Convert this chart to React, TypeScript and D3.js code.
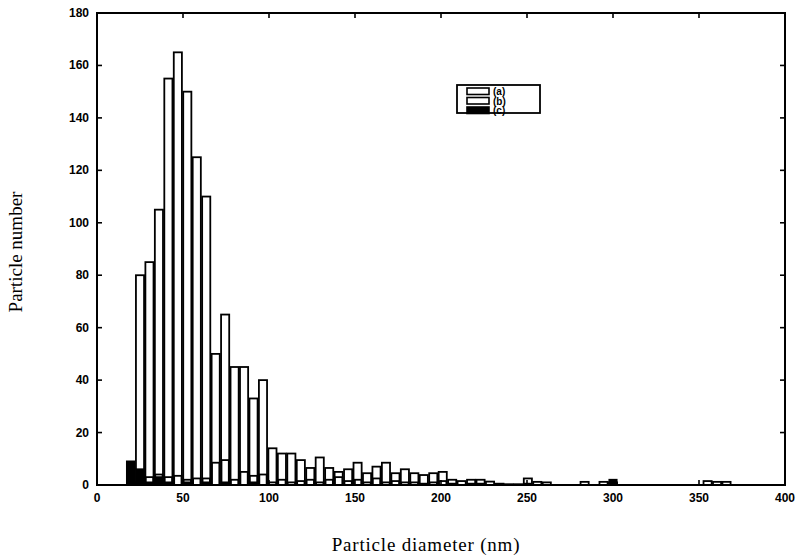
import * as d3 from "d3";

// bin centres (nm) of the histogram, bin width ~5.5 nm
const binCenters = [
  19.5, 25, 30.5, 36, 41.5, 47, 52.5, 58, 63.5, 69, 74.5, 80, 85.5, 91, 96.5,
  102, 107.5, 113, 118.5, 124, 129.5, 135, 140.5, 146, 151.5, 157, 162.5, 168,
  173.5, 179, 184.5, 190, 195.5, 201, 206.5, 212, 217.5, 223, 228.5, 234,
  239.5, 245, 250.5, 256, 261.5, 283.5, 294.5, 300, 355, 360.5, 366,
];
const countsA = [
  0, 80, 85, 105, 155, 165, 150, 125, 110, 50, 65, 45, 45, 33, 40,
  14, 12, 12, 9.5, 6.5, 10.5, 6.5, 5, 6, 8.5, 4.5, 7, 8.5,
  4.5, 6, 4.5, 3.8, 4.5, 5, 2, 1.5, 2, 2, 1.3, 0.5,
  0.3, 0.3, 2.5, 1.2, 1, 1.2, 1.2, 1, 1.5, 1.2, 1.2,
];
const countsB = [
  0, 1, 3, 4, 3, 3.5, 2, 2.5, 2.5, 8.5, 9.5, 2, 5, 3.5, 4,
  1, 2, 1, 1.5, 2, 1, 2, 3, 1.5, 2, 1, 2.5, 1,
  1.5, 1, 1, 0.5, 1, 1.5, 0.5, 0, 0.5, 0.5, 0, 0,
  0, 0, 0, 0, 0, 0, 0, 0, 0, 0, 0,
];
const countsC = [
  9, 6, 1, 3, 1, 0, 1, 0, 1, 0, 1, 0, 0, 1, 0,
  0, 0, 0, 0, 0, 0, 0, 0, 0, 0, 0, 0, 0,
  0, 0, 0, 0, 0, 0, 0, 0, 0, 0, 0, 0,
  0, 0, 0.5, 0, 0, 0, 0, 2, 0, 0, 0,
];
const BIN_WIDTH = 5.5;

const xTicks = [0, 50, 100, 150, 200, 250, 300, 350, 400];
const yTicks = [0, 20, 40, 60, 80, 100, 120, 140, 160, 180];
const legendLabels = ["(a)", "(b)", "(c)"];
const seriesFill = ["#ffffff", "#ffffff", "#000000"];

const W = 802;
const H = 560;
const PLOT = { left: 97, right: 785, top: 13, bottom: 485 };
const TICK = 5;

export default function App() {
  const xScale = d3.scaleLinear().domain([0, 400]).range([PLOT.left, PLOT.right]);
  const yScale = d3.scaleLinear().domain([0, 180]).range([PLOT.bottom, PLOT.top]);

  const barW = xScale(BIN_WIDTH * 0.86) - xScale(0);
  const series = [countsA, countsB, countsC];

  const bars = series.map((counts, s) => (
    <g key={s}>
      {binCenters.map((c, i) => {
        const v = counts[i];
        if (!v) return null;
        const w = s === 0 ? barW : barW * 0.9;
        return (
          <rect
            key={i}
            x={xScale(c) - w / 2}
            y={yScale(v)}
            width={w}
            height={yScale(0) - yScale(v)}
            fill={seriesFill[s]}
            stroke="#000"
            strokeWidth={1.8}
          />
        );
      })}
    </g>
  ));

  const tickFont = {
    fontFamily: "Liberation Sans, Arial, sans-serif",
    fontSize: 12,
    fontWeight: 700,
  };

  const legendX = 457;
  const legendY = 85;
  const rowH = 9.5;

  return (
    <svg
      width={W}
      height={H}
      style={{ position: "absolute", left: 0, top: 0, background: "#fff" }}
    >
      <rect x={0} y={0} width={W} height={H} fill="#fff" />
      {bars}

      {/* ticks, inward on all four sides */}
      {xTicks.map((t) => (
        <g key={`x${t}`}>
          <line x1={xScale(t)} x2={xScale(t)} y1={PLOT.bottom} y2={PLOT.bottom - TICK} stroke="#000" strokeWidth={1.6} />
          <line x1={xScale(t)} x2={xScale(t)} y1={PLOT.top} y2={PLOT.top + TICK} stroke="#000" strokeWidth={1.6} />
          <text x={xScale(t)} y={PLOT.bottom + 17} textAnchor="middle" {...tickFont}>
            {t}
          </text>
        </g>
      ))}
      {yTicks.map((t) => (
        <g key={`y${t}`}>
          <line x1={PLOT.left} x2={PLOT.left + TICK} y1={yScale(t)} y2={yScale(t)} stroke="#000" strokeWidth={1.6} />
          <line x1={PLOT.right} x2={PLOT.right - TICK} y1={yScale(t)} y2={yScale(t)} stroke="#000" strokeWidth={1.6} />
          <text x={PLOT.left - 8} y={yScale(t) + 4} textAnchor="end" {...tickFont}>
            {t}
          </text>
        </g>
      ))}

      <rect
        x={PLOT.left}
        y={PLOT.top}
        width={PLOT.right - PLOT.left}
        height={PLOT.bottom - PLOT.top}
        fill="none"
        stroke="#000"
        strokeWidth={2}
      />

      {/* legend */}
      <g>
        <rect x={legendX} y={legendY} width={83} height={28} fill="#fff" stroke="#000" strokeWidth={1.8} />
        {legendLabels.map((lab, i) => (
          <g key={lab}>
            <rect
              x={legendX + 10}
              y={legendY + 3 + i * rowH}
              width={22}
              height={6.5}
              fill={seriesFill[i]}
              stroke="#000"
              strokeWidth={1.6}
            />
            <text
              x={legendX + 36}
              y={legendY + 10 + i * rowH}
              fontFamily="Liberation Sans, Arial, sans-serif"
              fontSize={10}
              fontWeight={700}
            >
              {lab}
            </text>
          </g>
        ))}
      </g>

      {/* axis titles */}
      <text
        transform={`translate(22, 252) rotate(-90)`}
        textAnchor="middle"
        fontFamily="Liberation Serif, Times New Roman, serif"
        fontSize={19}
      >
        Particle number
      </text>
      <text
        x={426}
        y={551}
        textAnchor="middle"
        fontFamily="Liberation Serif, Times New Roman, serif"
        fontSize={19}
        letterSpacing={0.8}
      >
        Particle diameter (nm)
      </text>
    </svg>
  );
}
